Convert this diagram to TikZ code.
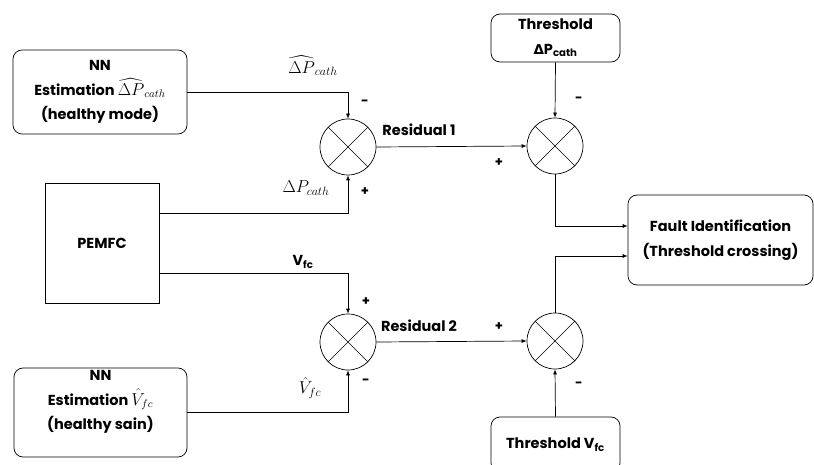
\documentclass[tikz,border=0pt]{standalone}
\usepackage{amsmath}
\usepackage{amssymb}
\usepackage{fontspec}
\setmainfont{Poppins}
\newfontfamily\dvfont{DejaVu Sans}
\usetikzlibrary{positioning,arrows.meta}

\newcommand{\sigmath}[1]{{\fontsize{17}{20}\selectfont$#1$}}
\newcommand{\boxmath}[1]{{\fontsize{16}{20}\selectfont$#1$}}

\begin{document}
\begin{tikzpicture}[x=1pt,y=-1pt,
  line width=0.7pt,
  box/.style={draw,rounded corners=9pt,align=center,font=\bfseries\fontsize{14.5}{24.5}\selectfont},
  plant/.style={draw,align=center,font=\bfseries\fontsize{14.5}{24.5}\selectfont},
  sum/.style={draw,circle,minimum size=56pt,inner sep=0pt,
    path picture={\draw[line width=0.5pt] (path picture bounding box.north west) -- (path picture bounding box.south east)
      (path picture bounding box.south west) -- (path picture bounding box.north east);}},
  arr/.style={-{Latex[length=5pt,width=4pt]}},
  note/.style={font=\bfseries\fontsize{14.5}{17}\selectfont},
  sgn/.style={font=\bfseries\fontsize{13}{15}\selectfont,inner sep=0pt}
]
\clip (0,0) rectangle (814,465);

\node[box,minimum width=174pt,minimum height=84pt] (nnp) at (100,92) {NN\\Estimation \boxmath{\widehat{\Delta P}_{cath}}\\(healthy mode)};
\node[plant,minimum width=114pt,minimum height=120pt] (pemfc) at (102,243) {PEMFC};
\node[box,minimum width=173pt,minimum height=89pt] (nnv) at (100.5,412.5) {};
\node[note,align=center,font=\bfseries\fontsize{14.5}{24.5}\selectfont] (nnvtxt) at (100.5,402) {NN\\Estimation \boxmath{\hat{V}_{fc}}\\(healthy sain)};

\node[sum] (s1) at (348,147) {};
\node[sum] (s2) at (348,342) {};
\node[sum] (s3) at (555,146) {};
\node[sum] (s4) at (555,341) {};

\node[box,minimum width=129pt,minimum height=48pt] (thp) at (555.5,38) {Threshold\\{\dvfont\bfseries\fontsize{13.5}{15}\selectfont Δ}P\textsubscript{cath}};
\node[box,minimum width=129pt,minimum height=55pt] (thv) at (555.5,444.5) {Threshold V\textsubscript{fc}};
\node[box,minimum width=185pt,minimum height=90pt,font=\bfseries\fontsize{14.5}{25}\selectfont] (fault) at (720.5,240) {Fault Identification\\(Threshold crossing)};

% signals
\draw[arr] (nnp.east) -| (s1.north);
\draw[arr] ([yshift=30pt]pemfc.east) -| (s1.south);
\draw[arr] ([yshift=-30pt]pemfc.east) -| (s2.north);
\draw[arr] (nnv.east) -| (s2.south);
\draw[arr] (s1.east) -- (s3.west);
\draw[arr] (s2.east) -- (s4.west);
\draw[arr] (thp.south) -- (s3.north);
\draw[arr] (thv.north) -- (s4.south);
\draw[arr] (s3.south) |- ([yshift=14pt]fault.west);
\draw[arr] (s4.north) |- ([yshift=-16pt]fault.west);

\node (lp1) at (313,66) {\sigmath{\widehat{\Delta P}_{cath}}};
\node (lp2) at (306,188) {\sigmath{\Delta P_{cath}}};
\node[note] (lv1) at (303,262) {V\textsubscript{fc}};
\node (lv2) at (310,388) {\sigmath{\hat{V}_{fc}}};
\node[note] (r1) at (419,130) {Residual 1};
\node[note] (r2) at (419,326) {Residual 2};

\node[sgn] at (365,103) {-};
\node[sgn] at (365,192) {+};
\node[sgn] at (366,302) {+};
\node[sgn] at (366,382) {-};
\node[sgn] at (499,163) {+};
\node[sgn] at (579,100) {-};
\node[sgn] at (499,327) {+};
\node[sgn] at (579,385) {-};
\end{tikzpicture}
\end{document}
